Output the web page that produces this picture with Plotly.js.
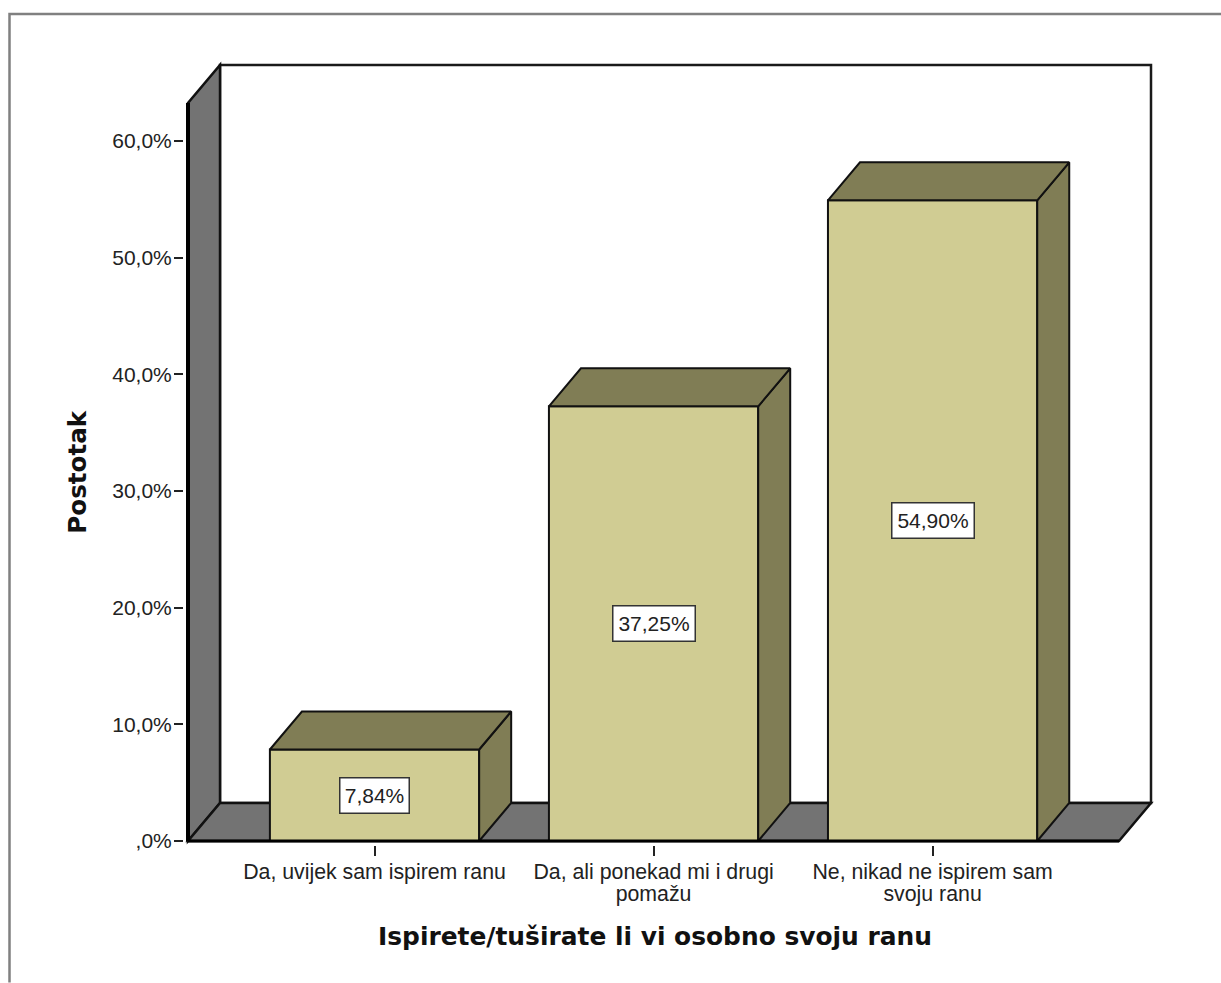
<!DOCTYPE html>
<html>
<head>
<meta charset="utf-8">
<script src="https://cdn.plot.ly/plotly-3.0.1.min.js"></script>
<style>html,body{margin:0;padding:0;background:#fff;overflow:hidden}#chart{width:1221px;height:983px}</style>
</head>
<body>
<div id="chart"></div>
<script>
const positions = [1, 2, 3];
const categories = ["Da, uvijek sam ispirem ranu", "Da, ali ponekad mi i drugi<br>pomažu", "Ne, nikad ne ispirem sam<br>svoju ranu"];
const values = [7.84, 37.25, 54.90];
const valueLabels = ["7,84%", "37,25%", "54,90%"];
const yTicks = [0, 10, 20, 30, 40, 50, 60];
const yTickLabels = [",0%", "10,0%", "20,0%", "30,0%", "40,0%", "50,0%", "60,0%"];
const xTitle = "Ispirete/tuširate li vi osobno svoju ranu";
const yTitle = "Postotak";

const barWidth = 0.75, depthX = 0.1147, depthY = 3.257;
const xMin = 0.3315, xFront = 3.668, xMax = xFront + depthX, yMax = 66.5, yFront = yMax - depthY;
const padX = 4 / 279, padY = 4 / 11.667;
const FACE = "#D0CC93", SHADE = "#807D55", WALL = "#737373", INK = "#111111";
const FONT = "Liberation Sans, Arial, sans-serif";

// plot area in page pixels, used only to place the titles and the outer frame
const plotL = 184, plotR = 1155, plotT = 61, plotB = 845.5;
const paperX = px => (px - plotL) / (plotR - plotL);
const paperY = py => (plotB - py) / (plotB - plotT);

const topX = [], topY = [], sideX = [], sideY = [];
positions.forEach((p, i) => {
  const l = p - barWidth / 2, r = p + barWidth / 2, v = values[i];
  topX.push(l, r, r + depthX, l + depthX, l, null);
  topY.push(v, v, v + depthY, v + depthY, v, null);
  sideX.push(r, r + depthX, r + depthX, r, r, null);
  sideY.push(0, depthY, v + depthY, v, 0, null);
});

const traces = [
  {type: "bar", x: positions, y: values, width: barWidth,
   marker: {color: FACE, line: {color: INK, width: 2}}, hoverinfo: "skip", showlegend: false},
  {type: "scatter", mode: "lines", x: sideX, y: sideY, fill: "toself", fillcolor: SHADE, cliponaxis: false,
   line: {color: INK, width: 2}, hoverinfo: "skip", showlegend: false},
  {type: "scatter", mode: "lines", x: topX, y: topY, fill: "toself", fillcolor: SHADE, cliponaxis: false,
   line: {color: INK, width: 2}, hoverinfo: "skip", showlegend: false}
];

const poly = pts => "M" + pts.map(p => p.join(",")).join("L") + "Z";
const shapes = [
  {type: "path", layer: "below", path: poly([[xMin + depthX, depthY], [xMax, depthY], [xMax, yMax], [xMin + depthX, yMax]]),
   fillcolor: "#ffffff", line: {color: "#1a1a1a", width: 2.5}},
  {type: "path", layer: "below", path: poly([[xMin, 0], [xMin + depthX, depthY], [xMin + depthX, yMax], [xMin, yFront]]),
   fillcolor: WALL, line: {color: INK, width: 2.5}},
  {type: "path", layer: "below", path: poly([[xMin, 0], [xFront, 0], [xMax, depthY], [xMin + depthX, depthY]]),
   fillcolor: WALL, line: {color: INK, width: 2.5}},
  {type: "line", layer: "above", x0: xMin, x1: xMin, y0: 0, y1: yFront, line: {color: "#000", width: 4}},
  {type: "line", layer: "above", x0: xMin, x1: xFront, y0: 0, y1: 0, line: {color: "#000", width: 3}},
  {type: "path", layer: "below", xref: "paper", yref: "paper",
   path: "M" + paperX(9.5) + "," + paperY(983) + "L" + paperX(9.5) + "," + paperY(14) + "L" + paperX(1221) + "," + paperY(14),
   line: {color: "#808080", width: 2.5}}
];

const annotations = positions.map((p, i) => ({
  x: p, y: values[i] / 2, xref: "x", yref: "y", text: valueLabels[i], showarrow: false,
  font: {family: FONT, size: 21, color: "#222"},
  bgcolor: "#ffffff", bordercolor: "#333333", borderwidth: 1.5,
  width: i === 0 ? 66 : 79, height: 32, align: "center", valign: "middle"
}));
annotations.push(
  {xref: "paper", yref: "paper", x: paperX(655), y: paperY(937), xanchor: "center", yanchor: "middle", showarrow: false,
   text: "<b>" + xTitle + "</b>", font: {family: "DejaVu Sans", size: 24.9, color: "#111"}},
  {xref: "paper", yref: "paper", x: paperX(78), y: paperY(472), xanchor: "center", yanchor: "middle", showarrow: false, textangle: -90,
   text: "<b>" + yTitle + "</b>", font: {family: "DejaVu Sans", size: 24.6, color: "#111"}}
);

const layout = {
  width: 1221, height: 983, paper_bgcolor: "#fff", plot_bgcolor: "rgba(0,0,0,0)",
  margin: {l: plotL, r: 1221 - plotR, t: plotT, b: 983 - plotB, pad: 0},
  showlegend: false, shapes, annotations, bargap: 0,
  font: {family: FONT, color: "#222"},
  xaxis: {range: [xMin - padX, xMax + padX], tickmode: "array", tickvals: positions, ticktext: categories,
    ticks: "outside", ticklen: 10, tickwidth: 2, tickcolor: "#222", ticklabelstandoff: -3, showgrid: false, zeroline: false, showline: false,
    tickangle: 0, tickfont: {family: FONT, size: 21.3, color: "#222"}},
  yaxis: {range: [-padY, yMax + padY], tickmode: "array", tickvals: yTicks, ticktext: yTickLabels,
    ticks: "outside", ticklen: 9, tickwidth: 2, tickcolor: "#222", ticklabelstandoff: -2, showgrid: false, zeroline: false, showline: false,
    tickfont: {family: FONT, size: 21, color: "#222"}}
};

Plotly.newPlot("chart", traces, layout, {displayModeBar: false, staticPlot: true}).then(() => {
  // tighter line spacing of the two-line category labels
  document.querySelectorAll(".xtick text").forEach(t => {
    const lines = t.querySelectorAll("tspan.line");
    if (lines.length > 1) lines[1].setAttribute("dy", "1.05em");
  });
});
</script>
</body>
</html>
